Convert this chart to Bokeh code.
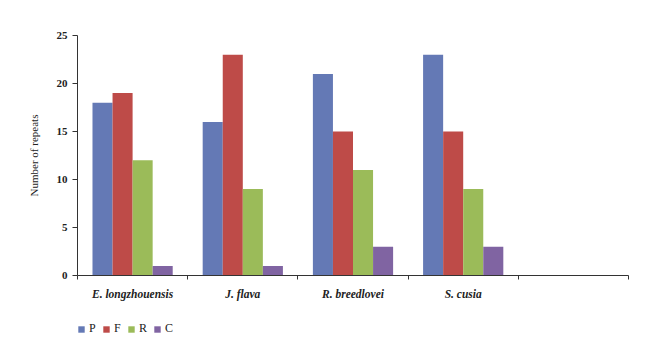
from bokeh.plotting import figure
from bokeh.layouts import column
from bokeh.models import ColumnDataSource, FixedTicker, Range1d, Legend, LegendItem
from bokeh.transform import dodge
from bokeh.embed import file_html
from bokeh.resources import INLINE

categories = ["E. longzhouensis", "J. flava", "R. breedlovei", "S. cusia", ""]
series = ["P", "F", "R", "C"]
P = [18, 16, 21, 23, None]
F = [19, 23, 15, 15, None]
R = [12, 9, 11, 9, None]
C = [1, 1, 3, 3, None]
colors = ["#6479B5", "#BE4B48", "#9BBB59", "#8064A2"]
y_ticks = [0, 5, 10, 15, 20, 25]

n = len(categories)
centers = [i + 0.5 for i in range(n)]
src = ColumnDataSource(dict(x=centers, P=P, F=F, R=R, C=C))

FONT = "Liberation Serif"
p = figure(width=660, height=310, output_backend="svg", toolbar_location=None,
           x_range=Range1d(0, n), y_range=Range1d(0, 25),
           min_border_left=77, min_border_right=32, min_border_top=35, min_border_bottom=35)
p.outline_line_color = None
p.xgrid.visible = False
p.ygrid.visible = False

bw = 0.182
offs = [-1.5 * bw, -0.5 * bw, 0.5 * bw, 1.5 * bw]
for s, c, o in zip(series, colors, offs):
    p.vbar(x=dodge("x", o, range=p.x_range), top=s, width=bw, source=src,
           fill_color=c, line_color=None)

xa = p.xaxis[0]
xa.ticker = FixedTicker(ticks=centers, minor_ticks=list(range(n + 1)))
xa.major_label_overrides = {c: lab for c, lab in zip(centers, categories)}
xa.major_tick_line_color = None
xa.minor_tick_line_color = "#333333"
xa.minor_tick_out = 4
xa.minor_tick_in = 0
xa.axis_line_color = "#333333"
xa.major_label_text_font = FONT
xa.major_label_text_font_style = "bold italic"
xa.major_label_text_font_size = "11.5px"
xa.major_label_text_color = "#222222"
xa.major_label_standoff = 6

ya = p.yaxis[0]
ya.ticker = FixedTicker(ticks=y_ticks)
ya.minor_tick_line_color = None
ya.major_tick_out = 5
ya.major_tick_in = 0
ya.axis_line_color = "#333333"
ya.major_tick_line_color = "#333333"
ya.major_label_text_font = FONT
ya.major_label_text_font_style = "bold"
ya.major_label_text_font_size = "11px"
ya.major_label_text_color = "#222222"
ya.axis_label = "Number of repeats"
ya.axis_label_text_font = FONT
ya.axis_label_text_font_style = "normal"
ya.axis_label_text_font_size = "11px"
ya.axis_label_text_color = "#222222"
ya.axis_label_standoff = 14

# legend strip
lg = figure(width=660, height=47, output_backend="svg", toolbar_location=None,
            x_range=Range1d(0, 1), y_range=Range1d(0, 1),
            min_border_left=77, min_border_right=32, min_border_top=0, min_border_bottom=0)
lg.xaxis.visible = False
lg.yaxis.visible = False
lg.xgrid.visible = False
lg.ygrid.visible = False
lg.outline_line_color = None
items = []
for s, c in zip(series, colors):
    r = lg.vbar(x=[0.5], top=[0], bottom=[0], width=0.0, fill_color=c, line_color=None)
    items.append(LegendItem(label=s, renderers=[r]))
legend = Legend(items=items, orientation="horizontal", location=(0, 21),
                glyph_width=8, glyph_height=8, label_standoff=4, spacing=6,
                label_width=7, label_height=10,
                label_text_font=FONT, label_text_font_size="12px",
                label_text_color="#222222", border_line_color=None,
                background_fill_alpha=0, padding=0, margin=0)
lg.add_layout(legend, "center")

open("out.html", "w").write(file_html(column(p, lg, spacing=0), INLINE))
